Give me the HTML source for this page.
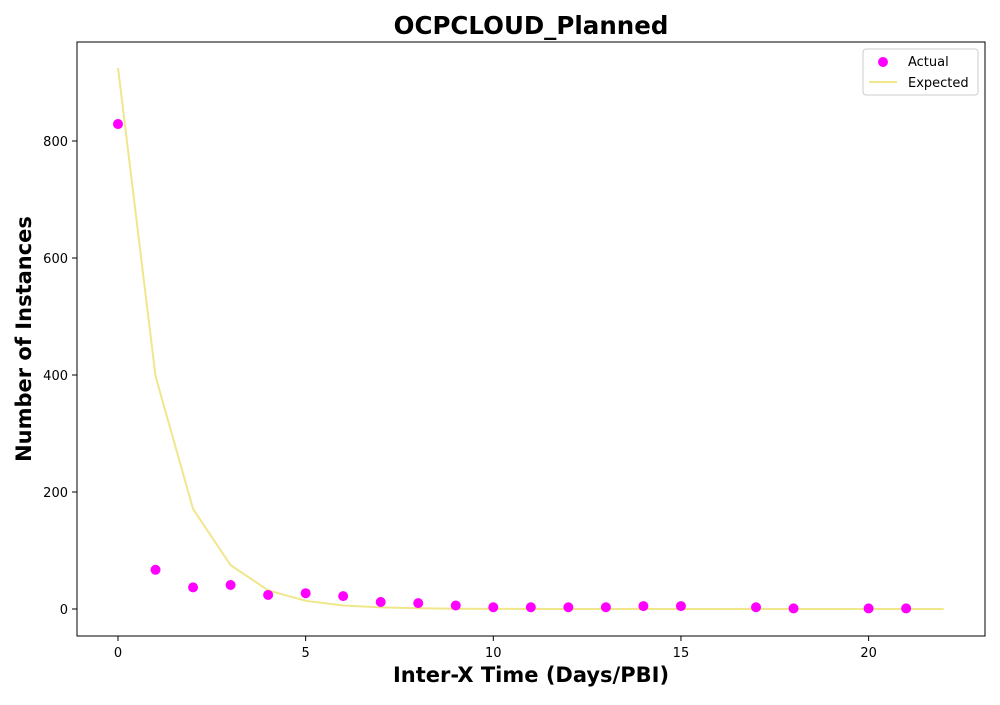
<!DOCTYPE html>
<html><head><meta charset="utf-8"><style>
body{margin:0;background:#fff;font-family:"Liberation Sans","DejaVu Sans",sans-serif}
</style></head><body>
<svg id="chart" width="1000" height="700" xmlns="http://www.w3.org/2000/svg">
<rect width="1000" height="700" fill="#fff"/>
<text x="531" y="34" text-anchor="middle" font-size="24.5" font-weight="bold" font-family="DejaVu Sans, sans-serif">OCPCLOUD_Planned</text>
<g id="plot"></g>
<rect x="77" y="42" width="908" height="594" fill="none" stroke="#000" stroke-width="1"/>
<text x="531" y="682" text-anchor="middle" font-size="21" font-weight="bold" font-family="DejaVu Sans, sans-serif">Inter-X Time (Days/PBI)</text>
<text transform="translate(31,339) rotate(-90)" text-anchor="middle" font-size="21" font-weight="bold" font-family="DejaVu Sans, sans-serif">Number of Instances</text>
<g>
<rect x="863" y="49" width="115" height="46" fill="#fff" stroke="#ccc" rx="3"/>
<circle cx="883" cy="62" r="5" fill="#ff00ff"/>
<text x="908" y="66" font-size="13" font-family="DejaVu Sans, sans-serif">Actual</text>
<line x1="869" y1="82" x2="897" y2="82" stroke="#f0e68c" stroke-width="2"/>
<text x="908" y="87" font-size="13" font-family="DejaVu Sans, sans-serif">Expected</text>
</g>
</svg>
<script>
const xTicks=[0,5,10,15,20];
const yTicks=[0,200,400,600,800];
const actualX=[0,1,2,3,4,5,6,7,8,9,10,11,12,13,14,15,17,18,20,21];
const actualY=[829,67,37,41,24,27,22,12,10,6,3,3,3,3,5,5,3,1,1,1];
const expectedX=[0,1,2,3,4,5,6,7,8,9,10,11,12,13,14,15,16,17,18,19,20,21,22];
const expectedY=[925,398,171,75,32,14,6,2.7,1.2,0.5,0.2,0.1,0,0,0,0,0,0,0,0,0,0,0];
const NS="http://www.w3.org/2000/svg";
const sx=v=>118+v*37.53;
const sy=v=>609-v*0.585;
const g=document.getElementById('plot');
function mk(t,a){const e=document.createElementNS(NS,t);for(const k in a)e.setAttribute(k,a[k]);g.appendChild(e);return e;}
xTicks.forEach(v=>{
 const l=mk('line',{x1:sx(v),x2:sx(v),y1:636,y2:641,stroke:'#000'});
 
 
 const t=mk('text',{x:sx(v),y:657,'text-anchor':'middle','font-size':13,'font-family':'DejaVu Sans, sans-serif'});
 t.textContent=v;
 
 
});
yTicks.forEach(v=>{
 const l=mk('line',{x1:72,x2:77,y1:sy(v),y2:sy(v),stroke:'#000'});
 
 
 const t=mk('text',{x:68,y:sy(v)+5,'text-anchor':'end','font-size':13,'font-family':'DejaVu Sans, sans-serif'});
 t.textContent=v;
 
 
});
const p=mk('polyline',{points:expectedX.map((x,i)=>sx(x)+','+sy(expectedY[i])).join(' '),fill:'none',stroke:'#f0e68c','stroke-width':2});


actualX.forEach((x,i)=>{
 const c=mk('circle',{cx:sx(x),cy:sy(actualY[i]),r:5,fill:'#ff00ff'});
 
 
});
</script>
</body></html>
